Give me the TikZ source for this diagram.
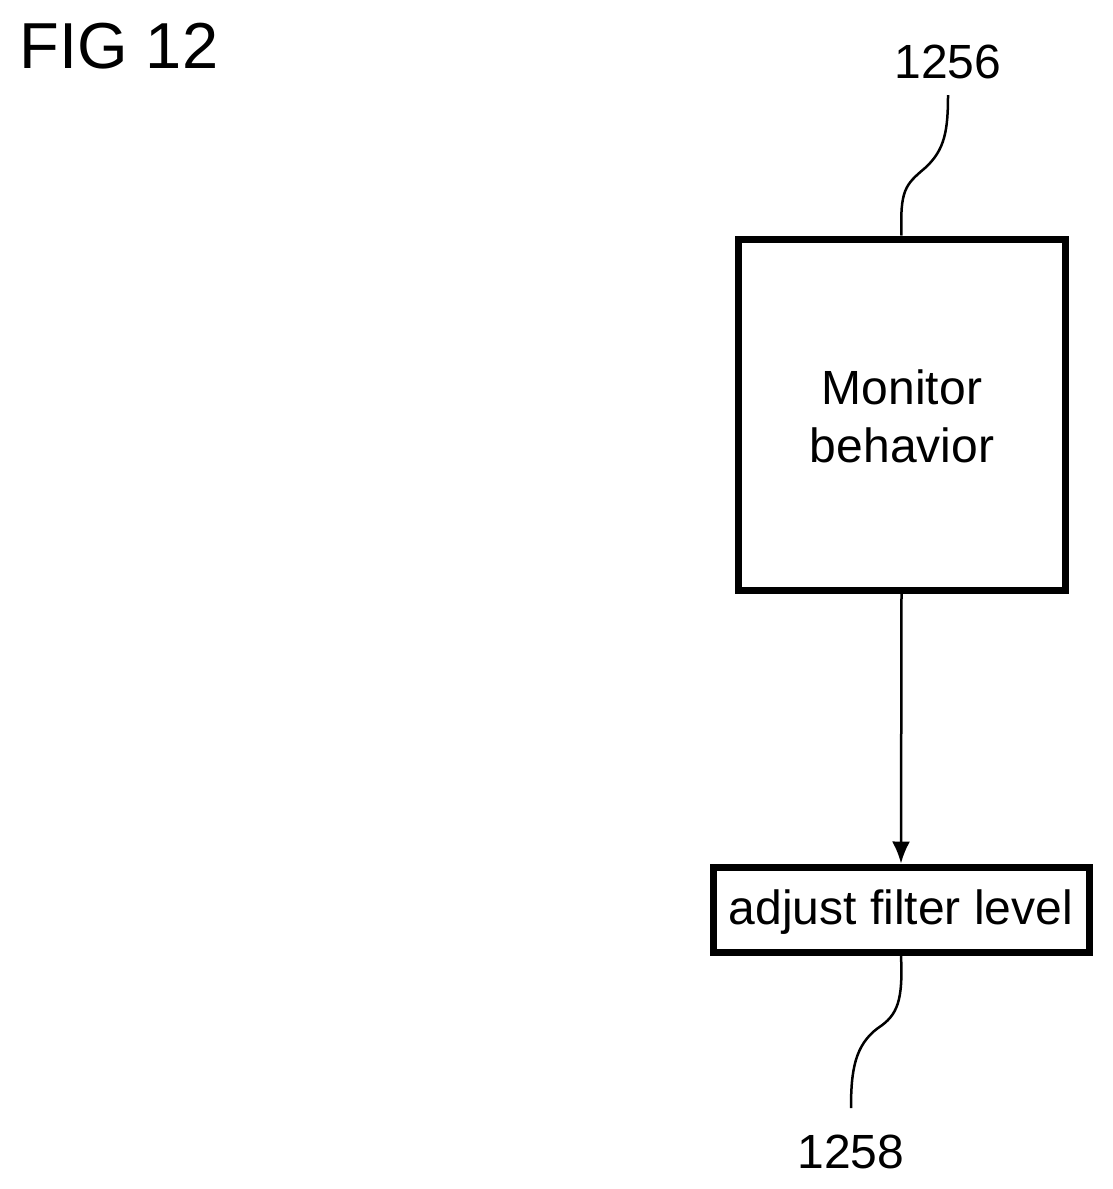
\documentclass[tikz,border=0pt]{standalone}
\usepackage{fontspec}
\setmainfont{Liberation Sans}
\usetikzlibrary{arrows.meta}
\begin{document}
\begin{tikzpicture}[x=1pt,y=-1pt,
  box/.style={draw,line width=7pt,inner sep=0pt},
  lbl/.style={font=\fontsize{48}{58}\selectfont,align=center},
  lead/.style={line width=2.5pt}]
\useasboundingbox (0,0) rectangle (1113,1189);
\node[anchor=west,font=\fontsize{65}{70}\selectfont] (fig) at (16,46) {FIG 12};
\node[box,minimum width=327pt,minimum height=351pt] (b1) at (901.5,414.5) {};
\node[lbl] (t1) at (902,416) {Monitor\\behavior};
\node[box,minimum width=376pt,minimum height=85pt] (b2) at (901,909.5) {};
\node[lbl] (t2) at (901,912) {adjust filter level};
\draw[line width=2.5pt,-{Latex[length=22pt,width=18pt]}] (b1.south) -- (b2.north);
\node[lbl] (n1) at (948,62) {1256};
\node[lbl] (n2) at (851,1152) {1258};
\coordinate (a1) at (948,95);
\coordinate (a2) at (851,1108);
\draw[lead] (b1.north) .. controls (900,190) and (905,185) .. (925,168) .. controls (945,150) and (948,130) .. (a1);
\draw[lead] (b2.south) .. controls (903,1000) and (898,1015) .. (878,1028) .. controls (855,1045) and (851,1070) .. (a2);
\end{tikzpicture}
\end{document}
